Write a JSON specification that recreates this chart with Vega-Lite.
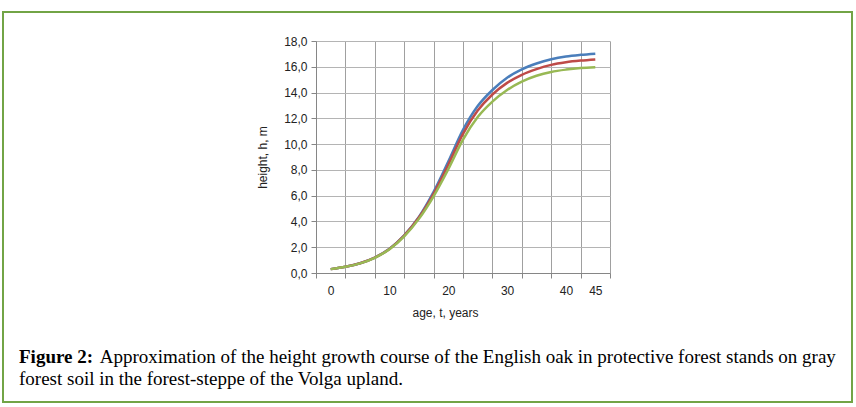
{
  "$schema": "https://vega.github.io/schema/vega-lite/v6.json",
  "width": 849,
  "height": 390,
  "autosize": "none",
  "padding": {"left": 3, "top": 12, "right": 4, "bottom": 5},
  "background": "white",
  "config": {
    "view": {"stroke": "#72a446", "strokeWidth": 2},
    "axis": {"labelFont": "Liberation Sans", "titleFont": "Liberation Sans"}
  },
  "title": {
    "text": "Figure 2:",
    "subtitle": [
      "\u200b\u00a0\u00a0\u00a0\u00a0\u00a0\u00a0\u00a0\u00a0\u00a0\u00a0\u00a0\u00a0\u00a0\u00a0\u00a0\u00a0\u00a0Approximation of the height growth course of the English oak in protective forest stands on gray",
      "forest soil in the forest-steppe of the Volga upland."
    ],
    "orient": "bottom",
    "anchor": "start",
    "frame": "group",
    "offset": -54,
    "dx": 16,
    "font": "Liberation Serif",
    "fontSize": 19,
    "fontWeight": "bold",
    "color": "#000000",
    "subtitleFont": "Liberation Serif",
    "subtitleFontSize": 19,
    "subtitleFontWeight": "normal",
    "subtitleColor": "#000000",
    "subtitlePadding": -19,
    "subtitleLineHeight": 22
  },
  "data": {
    "values": [
      {"t": 0, "h": 0.3, "series": "series 1"},
      {"t": 2.5, "h": 0.48, "series": "series 1"},
      {"t": 5, "h": 0.76, "series": "series 1"},
      {"t": 7.5, "h": 1.2, "series": "series 1"},
      {"t": 10, "h": 1.88, "series": "series 1"},
      {"t": 12.5, "h": 2.92, "series": "series 1"},
      {"t": 15, "h": 4.35, "series": "series 1"},
      {"t": 17.5, "h": 6.3, "series": "series 1"},
      {"t": 20, "h": 8.65, "series": "series 1"},
      {"t": 22.5, "h": 11.1, "series": "series 1"},
      {"t": 25, "h": 12.95, "series": "series 1"},
      {"t": 27.5, "h": 14.2, "series": "series 1"},
      {"t": 30, "h": 15.15, "series": "series 1"},
      {"t": 32.5, "h": 15.8, "series": "series 1"},
      {"t": 35, "h": 16.25, "series": "series 1"},
      {"t": 37.5, "h": 16.58, "series": "series 1"},
      {"t": 40, "h": 16.8, "series": "series 1"},
      {"t": 42.5, "h": 16.93, "series": "series 1"},
      {"t": 45, "h": 17.02, "series": "series 1"},
      {"t": 0, "h": 0.3, "series": "series 2"},
      {"t": 2.5, "h": 0.48, "series": "series 2"},
      {"t": 5, "h": 0.76, "series": "series 2"},
      {"t": 7.5, "h": 1.2, "series": "series 2"},
      {"t": 10, "h": 1.87, "series": "series 2"},
      {"t": 12.5, "h": 2.9, "series": "series 2"},
      {"t": 15, "h": 4.3, "series": "series 2"},
      {"t": 17.5, "h": 6.15, "series": "series 2"},
      {"t": 20, "h": 8.4, "series": "series 2"},
      {"t": 22.5, "h": 10.8, "series": "series 2"},
      {"t": 25, "h": 12.6, "series": "series 2"},
      {"t": 27.5, "h": 13.85, "series": "series 2"},
      {"t": 30, "h": 14.75, "series": "series 2"},
      {"t": 32.5, "h": 15.38, "series": "series 2"},
      {"t": 35, "h": 15.82, "series": "series 2"},
      {"t": 37.5, "h": 16.15, "series": "series 2"},
      {"t": 40, "h": 16.35, "series": "series 2"},
      {"t": 42.5, "h": 16.48, "series": "series 2"},
      {"t": 45, "h": 16.57, "series": "series 2"},
      {"t": 0, "h": 0.3, "series": "series 3"},
      {"t": 2.5, "h": 0.48, "series": "series 3"},
      {"t": 5, "h": 0.75, "series": "series 3"},
      {"t": 7.5, "h": 1.18, "series": "series 3"},
      {"t": 10, "h": 1.84, "series": "series 3"},
      {"t": 12.5, "h": 2.84, "series": "series 3"},
      {"t": 15, "h": 4.2, "series": "series 3"},
      {"t": 17.5, "h": 5.95, "series": "series 3"},
      {"t": 20, "h": 8.05, "series": "series 3"},
      {"t": 22.5, "h": 10.35, "series": "series 3"},
      {"t": 25, "h": 12.1, "series": "series 3"},
      {"t": 27.5, "h": 13.3, "series": "series 3"},
      {"t": 30, "h": 14.2, "series": "series 3"},
      {"t": 32.5, "h": 14.85, "series": "series 3"},
      {"t": 35, "h": 15.3, "series": "series 3"},
      {"t": 37.5, "h": 15.6, "series": "series 3"},
      {"t": 40, "h": 15.78, "series": "series 3"},
      {"t": 42.5, "h": 15.9, "series": "series 3"},
      {"t": 45, "h": 15.96, "series": "series 3"}
    ]
  },
  "layer": [
    {
      "mark": {"type": "point", "opacity": 0},
      "encoding": {
        "x": {
          "field": "t", "type": "quantitative",
          "scale": {"domain": [-2.5, 47.5], "range": [313, 607], "nice": false, "zero": false},
          "axis": {
            "orient": "top", "offset": -261,
            "values": [-2.5, 2.5, 7.5, 12.5, 17.5, 22.5, 27.5, 32.5, 37.5, 42.5, 47.5],
            "grid": true, "gridColor": "#a0a0a0", "gridWidth": 1,
            "labels": false, "ticks": true, "tickSize": -5, "tickColor": "#868686",
            "domain": true, "domainColor": "#868686", "title": null
          }
        },
        "y": {
          "field": "h", "type": "quantitative",
          "scale": {"domain": [0, 18], "range": [261, 29], "nice": false, "zero": false},
          "axis": {
            "orient": "left", "offset": -313,
            "values": [0, 2, 4, 6, 8, 10, 12, 14, 16, 18],
            "labelExpr": "replace(format(datum.value, '.1f'), '.', ',')",
            "grid": true, "gridColor": "#b4b4b4",
            "domainColor": "#868686", "tickColor": "#868686", "tickSize": 5,
            "labelPadding": 4, "labelFontSize": 12, "labelColor": "#222222",
            "title": "height, h, m", "titleFontSize": 12, "titleFontWeight": "normal",
            "titleColor": "#222222", "titlePadding": 14
          }
        }
      }
    },
    {
      "mark": {"type": "line", "strokeWidth": 2.5, "interpolate": "monotone"},
      "encoding": {
        "x": {
          "field": "t", "type": "quantitative",
          "scale": {"domain": [-2.5, 47.5], "range": [313, 607], "nice": false, "zero": false},
          "axis": {
            "orient": "bottom", "offset": -129,
            "values": [0, 10, 20, 30, 40, 45],
            "grid": false, "ticks": false, "tickSize": 0, "domain": false,
            "labelPadding": 12, "labelFontSize": 12, "labelColor": "#222222",
            "title": "age, t, years", "titleFontSize": 12, "titleFontWeight": "normal",
            "titleColor": "#222222", "titleX": 442, "titleY": 34, "titleBaseline": "top"
          }
        },
        "y": {
          "field": "h", "type": "quantitative",
          "scale": {"domain": [0, 18], "range": [261, 29], "nice": false, "zero": false},
          "axis": {
            "orient": "left", "offset": -313,
            "values": [0, 2, 4, 6, 8, 10, 12, 14, 16, 18],
            "labelExpr": "replace(format(datum.value, '.1f'), '.', ',')",
            "grid": true, "gridColor": "#b4b4b4",
            "domainColor": "#868686", "tickColor": "#868686", "tickSize": 5,
            "labelPadding": 4, "labelFontSize": 12, "labelColor": "#222222",
            "title": "height, h, m", "titleFontSize": 12, "titleFontWeight": "normal",
            "titleColor": "#222222", "titlePadding": 14
          }
        },
        "color": {
          "field": "series", "type": "nominal",
          "scale": {"domain": ["series 1", "series 2", "series 3"], "range": ["#4a7ebb", "#be4b48", "#98b954"]},
          "legend": null
        }
      }
    }
  ],
  "resolve": {"axis": {"x": "independent"}}
}
